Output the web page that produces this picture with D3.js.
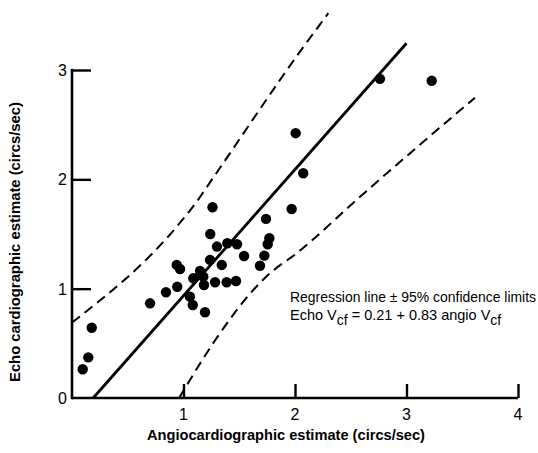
<!DOCTYPE html>
<html><head><meta charset="utf-8">
<script src="https://cdn.jsdelivr.net/npm/d3@7"></script>
<style>
html,body{margin:0;padding:0;background:#fff;}
svg{display:block;font-family:"Liberation Sans",Arial,Helvetica,sans-serif;}
</style></head>
<body>
<svg id="chart" width="538" height="453"></svg>
<script>
// Data
const angio = [1.26,1.97,1.74,1.24,1.77,1.755,1.30,1.393,1.48,1.543,1.725,1.238,1.343,0.939,0.969,1.686,1.148,1.088,1.178,1.283,1.387,1.471,1.184,0.944,0.843,0.700,1.058,1.083,1.193,0.177,0.146,0.096,2.762,3.226,2.006,2.074];
const echo  = [1.745,1.729,1.638,1.500,1.461,1.406,1.385,1.415,1.406,1.299,1.302,1.263,1.217,1.217,1.180,1.210,1.162,1.095,1.110,1.059,1.059,1.070,1.034,1.018,0.967,0.866,0.927,0.851,0.784,0.643,0.372,0.263,2.919,2.901,2.422,2.056];
const regX = [0.19, 3.0];
const regY = [0.0, 3.245];
const upperX = [0.0, 0.95, 1.1, 1.253, 2.045, 2.299];
const upperY = [0.69, 1.58, 1.77, 1.995, 3.168, 3.52];
const lowerX = [0.96, 1.327, 1.626, 1.776, 2.015, 2.568, 3.614];
const lowerY = [0.0, 0.592, 0.988, 1.141, 1.324, 1.827, 2.747];
const xTicks = [1, 2, 3, 4];
const yTicks = [0, 1, 2, 3];
const xTitle = "Angiocardiographic estimate (circs/sec)";
const yTitle = "Echo cardiographic estimate (circs/sec)";
const note1 = "Regression line \u00B1 95% confidence limits";

const svg = d3.select("#chart");
const x = d3.scaleLinear().domain([0, 4]).range([72, 518]);
const y = d3.scaleLinear().domain([0, 3]).range([398, 70]);

// axes frame
svg.append("line").attr("x1", x(0)).attr("x2", x(4)).attr("y1", y(0)).attr("y2", y(0))
  .attr("stroke", "#000").attr("stroke-width", 2.6);
svg.append("line").attr("x1", x(0)).attr("x2", x(0)).attr("y1", y(0) + 1.3).attr("y2", y(3) - 1.2)
  .attr("stroke", "#000").attr("stroke-width", 2.6);

// x ticks (inward)
const xAxis = d3.axisTop(x).tickValues(xTicks).tickSize(14).tickFormat("");
const gx = svg.append("g").attr("transform", `translate(0,${y(0)})`).call(xAxis);
gx.select(".domain").remove();
gx.selectAll(".tick line").attr("stroke", "#000").attr("stroke-width", 2.4);
// y ticks (inward)
const yAxis = d3.axisRight(y).tickValues(yTicks.filter(d => d > 0)).tickSize(19).tickFormat("");
const gy = svg.append("g").attr("transform", `translate(${x(0)},0)`).call(yAxis);
gy.select(".domain").remove();
gy.selectAll(".tick line").attr("stroke", "#000").attr("stroke-width", 2.4);

// tick labels
svg.append("g").selectAll("text").data(xTicks).join("text")
  .attr("x", d => x(d)).attr("y", y(0) + 22).attr("text-anchor", "middle")
  .attr("font-size", 16).text(d => d);
svg.append("g").selectAll("text").data(yTicks).join("text")
  .attr("x", x(0) - 5).attr("y", d => y(d) + 6).attr("text-anchor", "end")
  .attr("font-size", 16).text(d => d);

// titles
svg.append("text").attr("x", 286).attr("y", 440).attr("text-anchor", "middle")
  .attr("font-size", 15).attr("font-weight", "bold")
  .attr("textLength", 278).attr("lengthAdjust", "spacingAndGlyphs").text(xTitle);
svg.append("text").attr("transform", "translate(20,242) rotate(-90)").attr("text-anchor", "middle")
  .attr("font-size", 15).attr("font-weight", "bold")
  .attr("textLength", 280).attr("lengthAdjust", "spacingAndGlyphs").text(yTitle);

// confidence limits (dashed)
const line = d3.line().x(d => x(d[0])).y(d => y(d[1])).curve(d3.curveMonotoneX);
svg.append("path").datum(upperX.map((v, i) => [v, upperY[i]])).attr("d", line)
  .attr("fill", "none").attr("stroke", "#000").attr("stroke-width", 2).attr("stroke-dasharray", "10,6");
svg.append("path").datum(lowerX.map((v, i) => [v, lowerY[i]])).attr("d", line)
  .attr("fill", "none").attr("stroke", "#000").attr("stroke-width", 2).attr("stroke-dasharray", "10,6");
// regression line
svg.append("path").datum(regX.map((v, i) => [v, regY[i]])).attr("d", d3.line().x(d => x(d[0])).y(d => y(d[1])))
  .attr("fill", "none").attr("stroke", "#000").attr("stroke-width", 2.8);

// points
svg.append("g").selectAll("circle").data(angio.map((v, i) => [v, echo[i]])).join("circle")
  .attr("cx", d => x(d[0])).attr("cy", d => y(d[1])).attr("r", 5.2).attr("fill", "#000");

// annotation
svg.append("text").attr("x", 290).attr("y", 302).attr("font-size", 14)
  .attr("textLength", 246).attr("lengthAdjust", "spacingAndGlyphs").text(note1);
const t2 = svg.append("text").attr("x", 290).attr("y", 320).attr("font-size", 14.5);
t2.append("tspan").text("Echo V");
t2.append("tspan").attr("font-size", 14).attr("dy", 5).text("cf");
t2.append("tspan").attr("dy", -5).text(" = 0.21 + 0.83 angio V");
t2.append("tspan").attr("font-size", 14).attr("dy", 5).text("cf");
</script>
</body></html>
